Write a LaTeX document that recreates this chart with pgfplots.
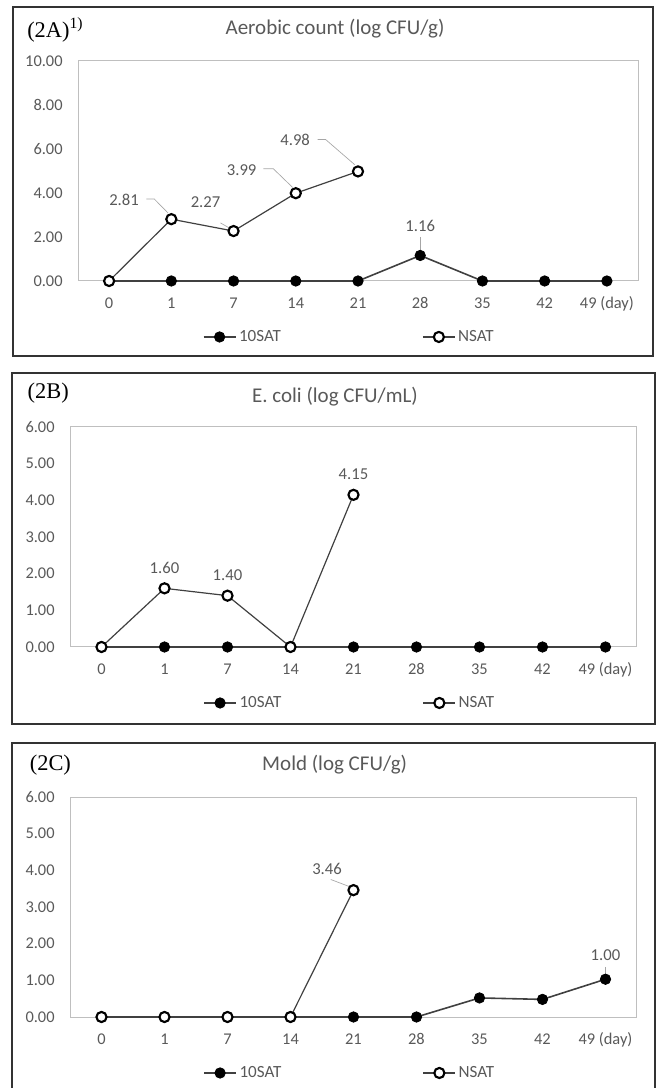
\documentclass[border=0pt]{standalone}
\usepackage{fontspec}
\setmainfont{Carlito}
\newfontfamily\seriffont{Liberation Serif}
\usepackage{pgfplots}
\pgfplotsset{compat=1.18}
\definecolor{txt}{HTML}{595959}
\definecolor{framec}{HTML}{BFBFBF}
\definecolor{ln}{HTML}{404040}
\definecolor{lead}{HTML}{A6A6A6}
\pgfplotsset{
 panel/.style={
   scale only axis, anchor=south west,
   height=165pt,
   xmin=-0.5, xmax=8.5,
   xtick={0,...,8}, xticklabels={0,1,7,14,21,28,35,42,49 (day)},
   major tick length=0pt,
   axis line style={framec, line width=0.75pt},
   tick label style={font=\fontsize{12.3}{14}\selectfont, text=txt},
   /pgf/number format/fixed,
   /pgf/number format/fixed zerofill,
   /pgf/number format/precision=2,
   /pgf/number format/assume math mode=true,
   yticklabel style={xshift=-8pt},
   xticklabel style={text height=8pt, text depth=2pt, yshift=-9pt},
   legend columns=2,
   legend style={draw=none, fill=none, font=\fontsize{12.8}{14}\selectfont, text=txt, anchor=center,
     /tikz/every even column/.append style={column sep=104pt}},
   legend image code/.code={\draw[mark repeat=2,mark phase=2,##1] plot coordinates {(0pt,0pt) (12pt,0pt) (24pt,0pt)};},
   clip=false,
 },
 sat/.style={ln, line width=1.2pt, mark=*, mark size=3.9pt, mark options={fill=black, draw=black, line width=0.6pt}},
 nsat/.style={ln, line width=0.9pt, mark=*, mark size=3.8pt, mark options={fill=white, draw=black, line width=1.6pt}},
}
\tikzset{
 lbl/.style={font=\fontsize{12.5}{14}\selectfont, text=txt, inner sep=0pt},
 leader/.style={lead, line width=0.5pt},
 ttl/.style={font=\fontsize{15.75}{18}\selectfont, text=txt, inner sep=0pt},
 plbl/.style={font=\seriffont\fontsize{16.8}{18}\selectfont, text=black, inner sep=0pt, anchor=west},
 box/.style={black!80, line width=0.9pt},
}
\begin{document}
\begin{tikzpicture}
% ---------- Panel A ----------
\draw[box] (9.75pt,549pt) rectangle (489.75pt,810.75pt);
\node[ttl] at (251.25pt,794.25pt) {Aerobic count (log CFU/g)};
\node[plbl] at (20.25pt,793.5pt) {(2A)\textsuperscript{1)}};
\begin{axis}[panel, at={(58.5pt,605.25pt)}, width=420pt,
  ymin=0, ymax=10, ytick={0,2,...,10},
  legend style={at={(0.485,-0.2545)}}]
\addplot[sat] coordinates {(0,0) (1,0) (2,0) (3,0) (4,0) (5,1.16) (6,0) (7,0) (8,0)};
\addlegendentry{10SAT}
\addplot[nsat] coordinates {(0,0) (1,2.81) (2,2.27) (3,3.99) (4,4.98)};
\addlegendentry{NSAT}
\node[lbl] at (axis cs:0.24,3.68) {2.81};
\draw[leader] (axis cs:0.60,3.73) -- (axis cs:0.725,3.73) -- (axis cs:0.95,3.08);
\node[lbl] at (axis cs:1.55,3.59) {2.27};
\draw[leader] (axis cs:1.79,2.64) -- (axis cs:1.95,2.38);
\node[lbl] at (axis cs:2.13,5.05) {3.99};
\draw[leader] (axis cs:2.48,5.10) -- (axis cs:2.64,5.10) -- (axis cs:2.95,4.25);
\node[lbl] at (axis cs:2.99,6.41) {4.98};
\draw[leader] (axis cs:3.35,6.43) -- (axis cs:3.48,6.43) -- (axis cs:3.95,5.28);
\node[lbl] at (axis cs:5,2.5) {1.16};
\draw[leader] (axis cs:5,2.0) -- (axis cs:5,1.42);
\end{axis}
% ---------- Panel B ----------
\draw[box] (9pt,273pt) rectangle (491.25pt,536.25pt);
\node[ttl] at (251.25pt,518.25pt) {E. coli (log CFU/mL)};
\node[plbl] at (20.6pt,521.25pt) {(2B)};
\begin{axis}[panel, at={(52.5pt,330.75pt)}, width=425.25pt,
  ymin=0, ymax=6, ytick={0,...,6},
  legend style={at={(0.494,-0.2545)}}]
\addplot[sat] coordinates {(0,0) (1,0) (2,0) (3,0) (4,0) (5,0) (6,0) (7,0) (8,0)};
\addlegendentry{10SAT}
\addplot[nsat] coordinates {(0,0) (1,1.60) (2,1.40) (3,0) (4,4.15)};
\addlegendentry{NSAT}
\node[lbl] at (axis cs:1,2.15) {1.60};
\node[lbl] at (axis cs:2,1.95) {1.40};
\node[lbl] at (axis cs:4,4.71) {4.15};
\end{axis}
% ---------- Panel C ----------
\draw[box] (9pt,-5pt) rectangle (491.25pt,258.75pt);
\node[ttl] at (251pt,242.25pt) {Mold (log CFU/g)};
\node[plbl] at (22.2pt,242.25pt) {(2C)};
\begin{axis}[panel, at={(52.5pt,53.25pt)}, width=425.25pt,
  ymin=0, ymax=6, ytick={0,...,6},
  legend style={at={(0.494,-0.2545)}}]
\addplot[sat] coordinates {(0,0) (1,0) (2,0) (3,0) (4,0) (5,0) (6,0.52) (7,0.48) (8,1.03)};
\addlegendentry{10SAT}
\addplot[nsat] coordinates {(0,0) (1,0) (2,0) (3,0) (4,3.46)};
\addlegendentry{NSAT}
\node[lbl] at (axis cs:3.58,4.03) {3.46};
\draw[leader] (axis cs:3.64,3.75) -- (axis cs:3.93,3.56);
\node[lbl] at (axis cs:8,1.68) {1.00};
\draw[leader] (axis cs:8,1.37) -- (axis cs:8,1.17);
\end{axis}
\pgfresetboundingbox
\useasboundingbox (0,0) rectangle (495pt,816pt);
\end{tikzpicture}
\end{document}
